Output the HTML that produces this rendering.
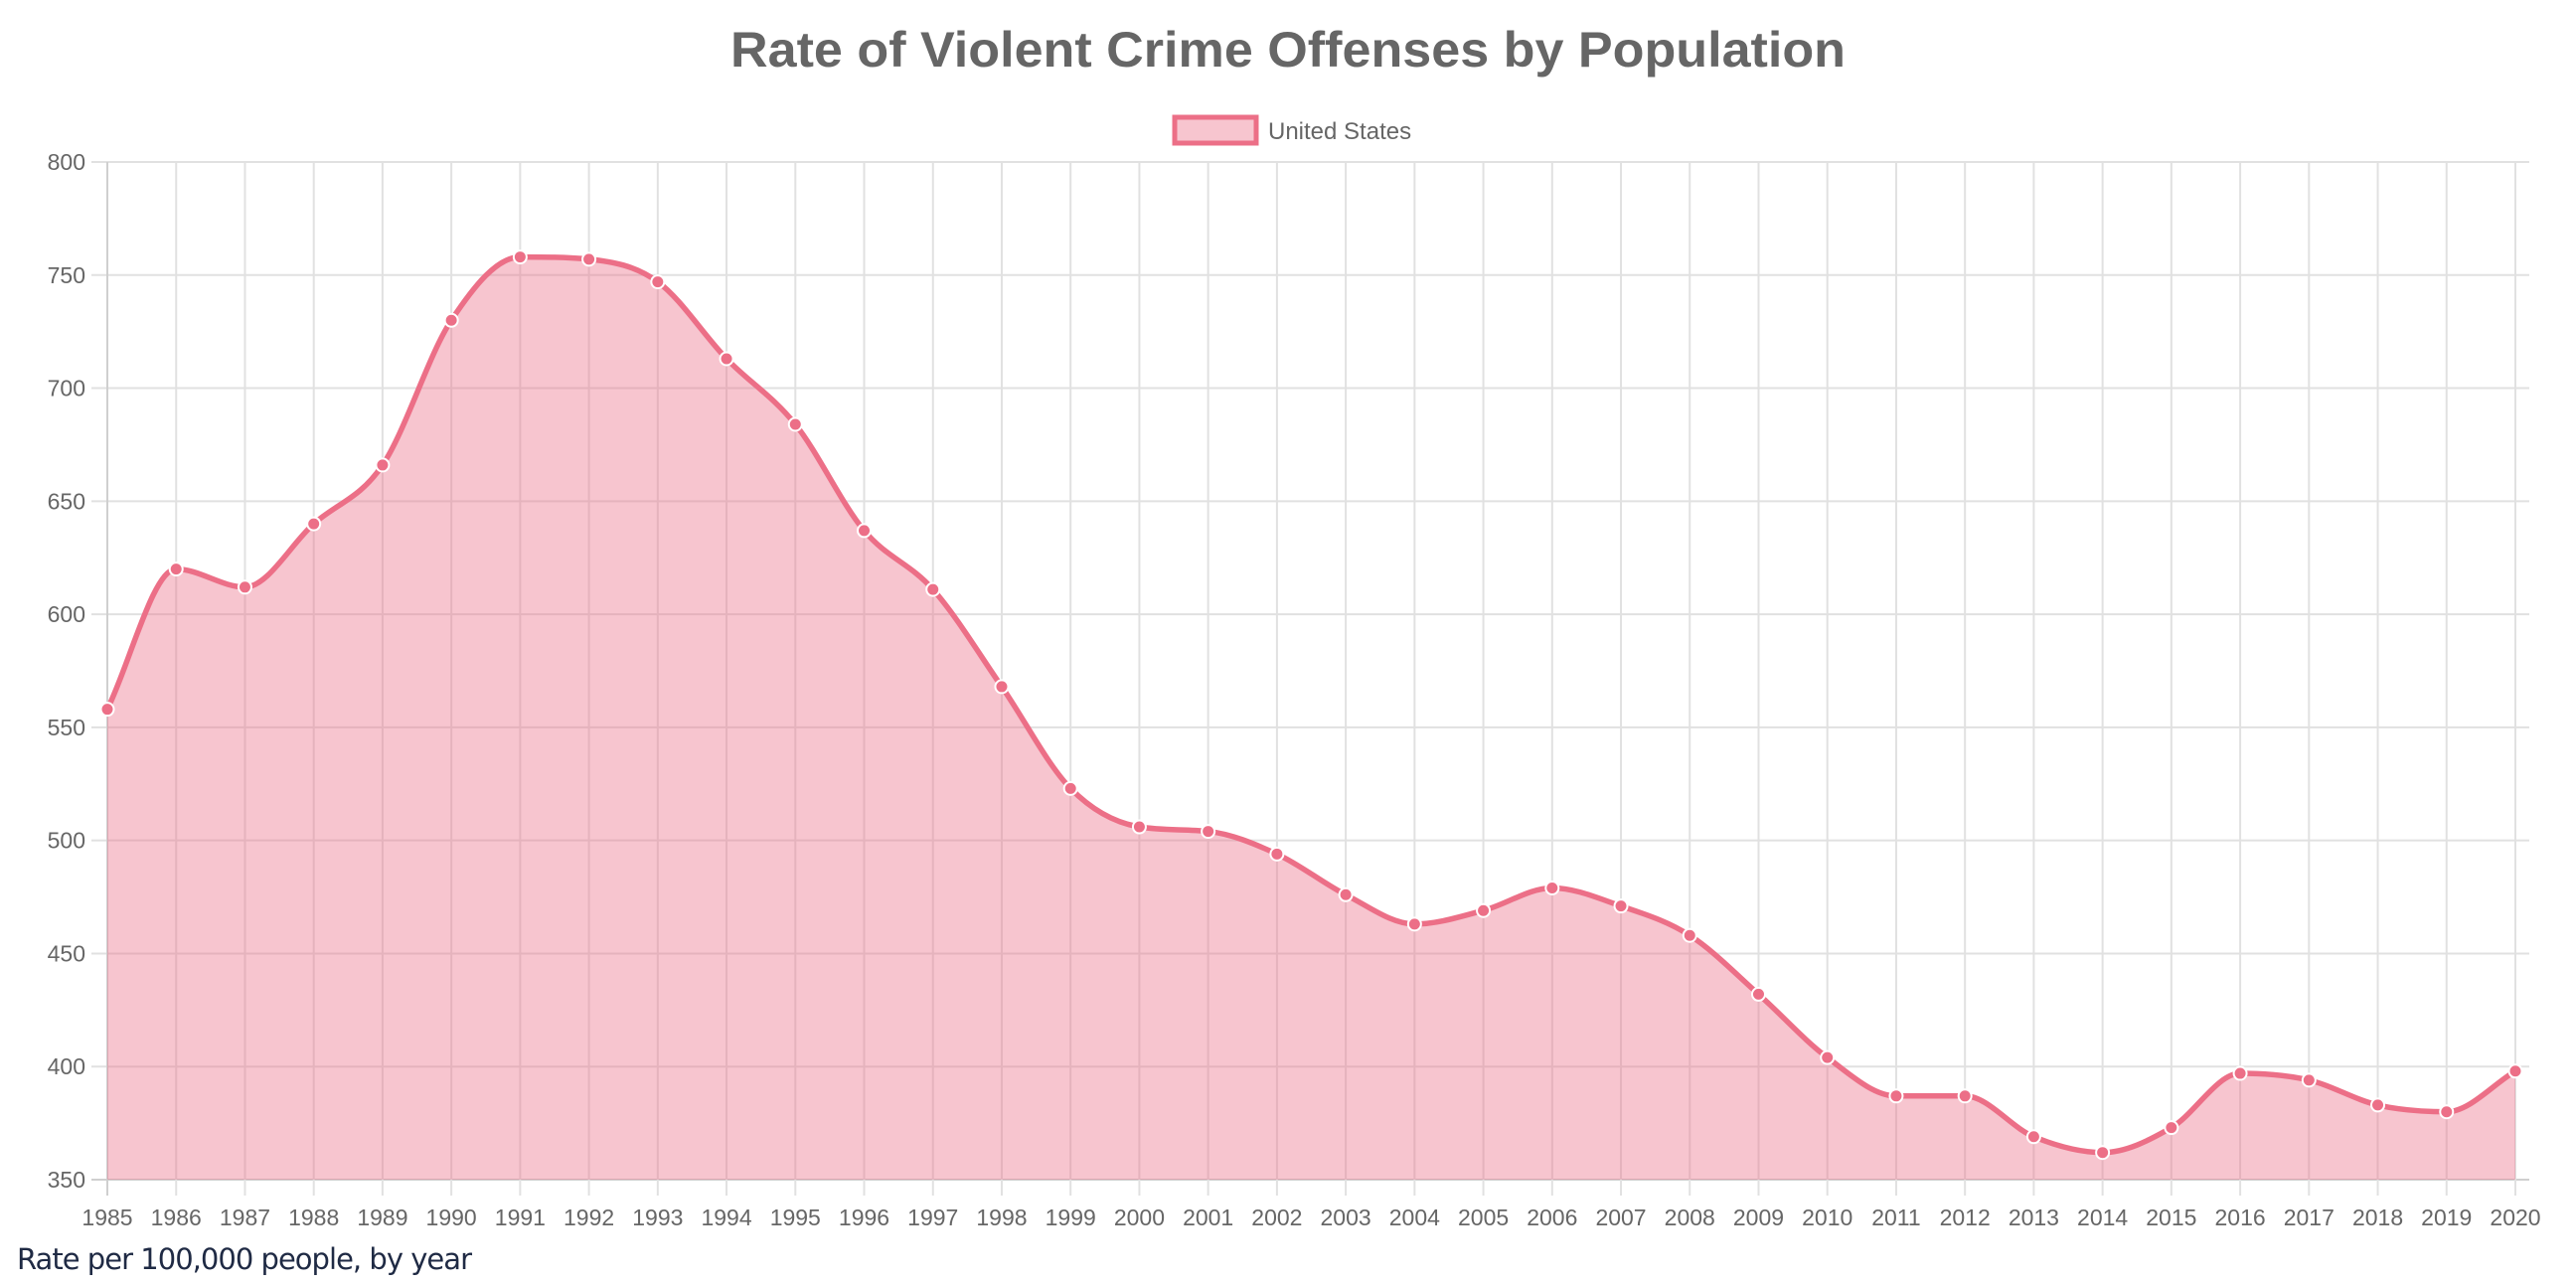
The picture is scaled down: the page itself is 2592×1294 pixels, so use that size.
<!DOCTYPE html>
<html><head><meta charset="utf-8">
<style>
html,body{margin:0;padding:0;background:#fff;}
svg{display:block;}
</style></head>
<body>
<svg id="c" width="2592" height="1294" xmlns="http://www.w3.org/2000/svg" font-family="Liberation Sans, Arial, sans-serif">
<text x="1296" y="67" text-anchor="middle" font-size="50" font-weight="bold" fill="#666" textLength="1122" lengthAdjust="spacingAndGlyphs">Rate of Violent Crime Offenses by Population</text>
<rect x="1182" y="118" width="82" height="26" fill="#f7c5cf" stroke="#ec6f87" stroke-width="5"/>
<text x="1276" y="140" font-size="24" fill="#666">United States</text>
<g id="grid"></g>
<g id="plot"></g>
<text x="17" y="1277" font-size="29" fill="#1f2a44" font-family="DejaVu Sans, Liberation Sans, sans-serif" textLength="458">Rate per 100,000 people, by year</text>
</svg>
<script>
var data=[558,620,612,640,666,730,758,757,747,713,684,637,611,568,523,506,504,494,476,463,469,479,471,458,432,404,387,387,369,362,373,397,394,383,380,398];
var x0=108,dx=(2531-108)/35,yTop=163,yBot=1187;
function X(i){return x0+i*dx;}
function Y(v){return yBot-(v-350)*(yBot-yTop)/450;}
var ns="http://www.w3.org/2000/svg",g=document.getElementById('grid'),p=document.getElementById('plot');
function el(t,a,par,txt){var e=document.createElementNS(ns,t);for(var k in a)e.setAttribute(k,a[k]);if(txt)e.textContent=txt;par.appendChild(e);return e;}
for(var v=350;v<=800;v+=50){var y=Y(v);
 el('line',{x1:92,x2:2545,y1:y,y2:y,stroke:v==350?'#cfcfcf':'#e1e1e1','stroke-width':2},g);
 el('text',{x:86,y:y+8,'text-anchor':'end','font-size':23,fill:'#666'},g,String(v));}
for(var i=0;i<36;i++){var x=X(i);
 el('line',{x1:x,x2:x,y1:yTop,y2:1203,stroke:i==0?'#cfcfcf':'#e1e1e1','stroke-width':2},g);
 el('text',{x:x,y:1233,'text-anchor':'middle','font-size':23,fill:'#666'},g,String(1985+i));}
var n=data.length,pts=data.map(function(v,i){return [X(i),Y(v)];});
var delta=[],m=[];
for(var i=0;i<n-1;i++)delta.push((pts[i+1][1]-pts[i][1])/dx);
m[0]=delta[0];m[n-1]=delta[n-2];
for(var i=1;i<n-1;i++){m[i]=(delta[i-1]*delta[i]<=0)?0:(delta[i-1]+delta[i])/2;}
for(var i=0;i<n-1;i++){
 if(delta[i]==0){m[i]=0;m[i+1]=0;continue;}
 var a=m[i]/delta[i],b=m[i+1]/delta[i],s=a*a+b*b;
 if(s>9){var tt=3/Math.sqrt(s);m[i]=tt*a*delta[i];m[i+1]=tt*b*delta[i];}}
var d='M'+pts[0][0]+','+pts[0][1],h=dx/3;
for(var i=0;i<n-1;i++){
 d+=' C'+(pts[i][0]+h)+','+(pts[i][1]+m[i]*h)+' '+(pts[i+1][0]-h)+','+(pts[i+1][1]-m[i+1]*h)+' '+pts[i+1][0]+','+pts[i+1][1];}
el('path',{d:d+' L'+X(35)+','+yBot+' L'+X(0)+','+yBot+' Z',fill:'rgba(236,111,135,0.4)'},p);
el('path',{d:d,fill:'none',stroke:'#ec6f87','stroke-width':5.5},p);
pts.forEach(function(q){el('circle',{cx:q[0],cy:q[1],r:6.5,fill:'#ec6f87',stroke:'#fff','stroke-width':2},p);});
</script>
</body></html>
